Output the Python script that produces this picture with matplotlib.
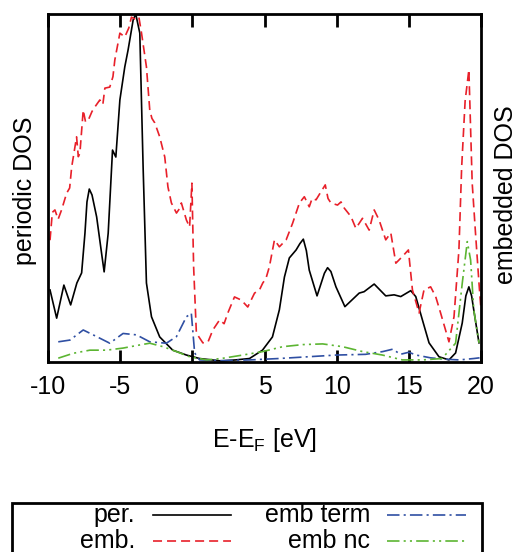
import matplotlib
matplotlib.use('Agg')
import matplotlib.pyplot as plt
from matplotlib.lines import Line2D
from matplotlib.patches import Rectangle

plt.rcParams['font.family'] = ['Liberation Sans', 'DejaVu Sans']
plt.rcParams['mathtext.fontset'] = 'custom'
plt.rcParams['mathtext.rm'] = 'Liberation Sans'
plt.rcParams['mathtext.it'] = 'Liberation Sans:italic'
plt.rcParams['lines.scale_dashes'] = False
plt.rcParams['axes.unicode_minus'] = False

# ---- data (arbitrary units) ----
per_e = [-9.86, -9.4, -8.9, -8.43, -8.0, -7.67, -7.44, -7.3, -7.14, -6.95, -6.63, -6.29,
         -6.11, -5.83, -5.53, -5.3, -5.02, -4.68, -4.45, -4.1, -3.92, -3.64, -3.41, -3.18,
         -2.83, -2.26, -1.36, -0.41, 0.5, 2.0, 3.0, 3.96, 4.86, 5.55, 6.03, 6.38,
         6.72, 7.19, 7.45, 7.69, 7.9, 8.1, 8.64, 9.15, 9.37, 9.6, 9.95, 10.57, 11.56,
         11.9, 12.6, 13.4, 13.98, 14.44, 15.13, 15.48, 15.94, 16.4, 17.09, 17.78, 18.24,
         18.7, 18.95, 19.16, 19.35, 19.5, 19.86]
per_v = [0.207, 0.126, 0.221, 0.164, 0.227, 0.256, 0.37, 0.46, 0.497, 0.48, 0.417, 0.313,
         0.259, 0.37, 0.609, 0.589, 0.753, 0.848, 0.897, 0.983, 1.0, 0.945, 0.56, 0.227,
         0.13, 0.072, 0.034, 0.02, 0.01, 0.003, 0.006, 0.01, 0.034, 0.072, 0.15, 0.244,
         0.299, 0.322, 0.34, 0.353, 0.32, 0.264, 0.19, 0.255, 0.271, 0.26, 0.216, 0.159,
         0.198, 0.202, 0.224, 0.19, 0.193, 0.188, 0.205, 0.188, 0.121, 0.055, 0.015, 0.006,
         0.026, 0.112, 0.19, 0.216, 0.19, 0.149, 0.055]

emb_e = [-9.86, -9.7, -9.52, -9.3, -9.06, -8.71, -8.5, -8.36, -8.02, -7.9, -7.79, -7.56,
         -7.4, -7.21, -6.95, -6.75, -6.41, -6.2, -6.06, -5.72, -5.5, -5.37, -5.02, -4.68,
         -4.4, -4.22, -3.87, -3.7, -3.52, -3.18, -2.95, -2.8, -2.6, -2.26, -1.91, -1.69,
         -1.45, -1.1, -0.9, -0.76, -0.41, -0.19, -0.03, 0.09, 0.28, 0.73, 1.08, 1.42,
         1.89, 2.2, 2.46, 2.92, 3.39, 3.84, 4.31, 4.65, 4.88, 5.1, 5.34, 5.69, 6.03, 6.5,
         6.95, 7.2, 7.42, 7.76, 8.1, 8.3, 8.57, 8.91, 9.21, 9.4, 9.6, 10.06, 10.3, 10.53,
         10.99, 11.33, 11.79, 12.25, 12.6, 12.94, 13.4, 13.75, 14.1, 14.55, 14.97, 15.25,
         15.71, 16.05, 16.51, 16.86, 17.2, 17.78, 18.13, 18.47, 18.66, 18.9, 19.16, 19.39,
         19.62, 19.86, 20.0]
emb_v = [0.35, 0.43, 0.437, 0.41, 0.437, 0.485, 0.5, 0.56, 0.647, 0.59, 0.6, 0.724,
         0.69, 0.695, 0.72, 0.733, 0.753, 0.74, 0.787, 0.79, 0.82, 0.868, 0.945, 0.934,
         0.96, 0.991, 0.983, 0.99, 0.945, 0.848, 0.724, 0.7, 0.687, 0.647, 0.589, 0.503,
         0.457, 0.428, 0.44, 0.457, 0.408, 0.388, 0.514, 0.273, 0.083, 0.055, 0.057, 0.092,
         0.121, 0.11, 0.141, 0.187, 0.178, 0.158, 0.198, 0.207, 0.227, 0.24, 0.274, 0.351,
         0.331, 0.351, 0.399, 0.43, 0.457, 0.475, 0.446, 0.47, 0.466, 0.489, 0.509, 0.47,
         0.457, 0.451, 0.46, 0.442, 0.418, 0.384, 0.413, 0.379, 0.437, 0.408, 0.351, 0.371,
         0.284, 0.303, 0.322, 0.207, 0.141, 0.207, 0.216, 0.188, 0.141, 0.058, 0.13, 0.322,
         0.56, 0.75, 0.84, 0.514, 0.37, 0.227, 0.15]

term_e = [-9.29, -8.48, -7.56, -6.63, -5.72, -4.8, -3.87, -2.95, -1.8, -1.1, -0.41,
          -0.07, 0.16, 0.5, 2.0, 4.0, 6.0, 8.0, 10.0, 12.0, 13.2, 13.9, 14.4, 15.0,
          15.5, 16.5, 17.5, 18.5, 19.5, 19.9]
term_v = [0.058, 0.063, 0.092, 0.073, 0.054, 0.082, 0.078, 0.058, 0.054, 0.073, 0.13,
          0.14, 0.026, 0.006, 0.004, 0.006, 0.01, 0.015, 0.02, 0.022, 0.03, 0.037, 0.022,
          0.028, 0.02, 0.012, 0.008, 0.006, 0.01, 0.012]

nc_e = [-9.29, -8.25, -7.1, -5.94, -4.8, -3.64, -2.95, -2.03, -1.1, -0.19, 1.0, 2.0,
        3.5, 4.88, 6.26, 7.65, 9.03, 10.41, 11.79, 13.17, 14.55, 15.94, 17.3, 18.24,
        18.7, 19.05, 19.28, 19.5, 19.86]
nc_v = [0.011, 0.025, 0.034, 0.034, 0.04, 0.049, 0.054, 0.044, 0.03, 0.015, 0.006, 0.01,
        0.02, 0.03, 0.044, 0.05, 0.052, 0.044, 0.03, 0.02, 0.006, 0.006, 0.01, 0.054,
        0.226, 0.346, 0.293, 0.15, 0.055]

xticks = [-10, -5, 0, 5, 10, 15, 20]

RED = '#e8202a'
BLUE = '#2f4fa3'
GREEN = '#5cb532'
styles = {
    'per.': dict(color='black', linestyle='-'),
    'emb.': dict(color=RED, linestyle=(0, (6.5, 3.6))),
    'emb term': dict(color=BLUE, linestyle=(0, (9, 3, 1.5, 3))),
    'emb nc': dict(color=GREEN, linestyle=(0, (9, 3, 1.5, 3, 1.5, 3))),
}
LW = 1.2
FS = 18

fig = plt.figure(figsize=(5.18, 5.52), dpi=100)
ax = fig.add_axes([48 / 518, 1 - 362 / 552, 433 / 518, 348 / 552])

ax.plot(per_e, per_v, lw=LW, **styles['per.'])
ax.plot(emb_e, emb_v, lw=LW, **styles['emb.'])
ax.plot(term_e, term_v, lw=LW, **styles['emb term'])
ax.plot(nc_e, nc_v, lw=LW, **styles['emb nc'])

ax.set_xlim(-10, 20)
ax.set_ylim(0, 1)
ax.set_xticks(xticks)
ax.set_yticks([])
ax.tick_params(axis='x', direction='in', length=9, width=2, top=True,
               labelsize=FS, pad=9)
for s in ax.spines.values():
    s.set_linewidth(2)

fig.text(25 / 518, 1 - 191 / 552, 'periodic DOS', rotation=90, fontsize=FS,
         ha='center', va='center')
fig.text(506 / 518, 1 - 195 / 552, 'embedded DOS', rotation=90, fontsize=FS,
         ha='center', va='center')
fig.text(264 / 518, 1 - 440 / 552, r'E-E$_\mathrm{F}$ [eV]', fontsize=FS,
         ha='center', va='center')

# gnuplot style key below the plot
fig.patches.append(Rectangle((12 / 518, -0.05), 470 / 518, 0.05 + 1 - 503 / 552,
                             transform=fig.transFigure, fill=False, lw=2,
                             edgecolor='black'))
key = [('per.', 135, 153, 231, 515), ('emb.', 135, 153, 231, 541),
       ('emb term', 370, 387, 466, 515), ('emb nc', 370, 387, 466, 541)]
for name, tx, x0, x1, y in key:
    fig.text(tx / 518, 1 - y / 552, name, fontsize=FS, ha='right', va='center')
    fig.lines.append(Line2D([x0 / 518, x1 / 518], [1 - y / 552, 1 - y / 552],
                            transform=fig.transFigure, lw=LW, **styles[name]))

fig.savefig('out.png', dpi=100)
